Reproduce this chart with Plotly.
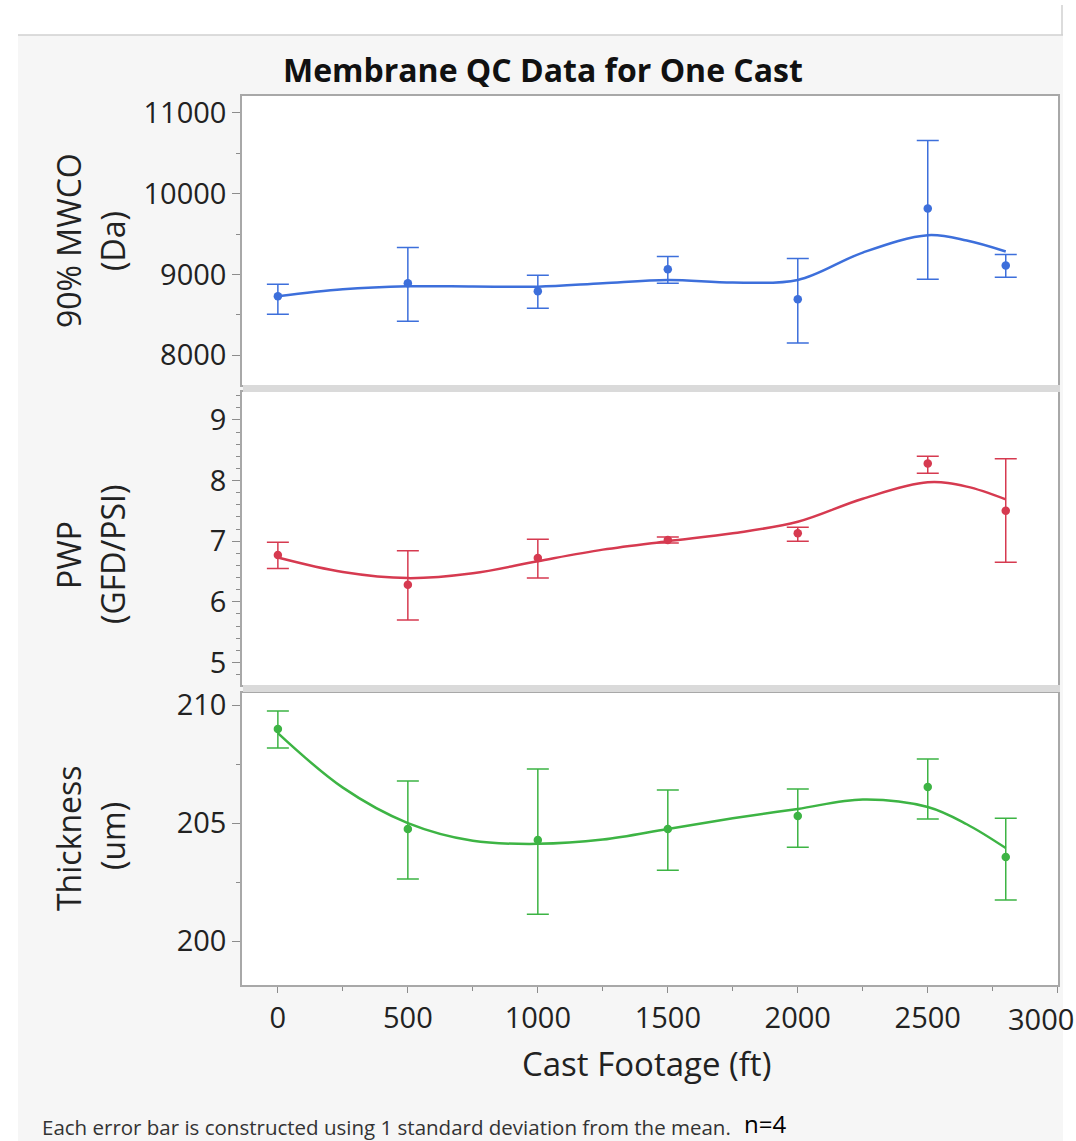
import plotly.graph_objects as go
from plotly.subplots import make_subplots

# ---------------- data ----------------
footage = [0, 500, 1000, 1500, 2000, 2500, 2800]

mwco_mean = [8728, 8889, 8790, 9062, 8691, 9815, 9111]
mwco_hi = [8877, 9333, 8988, 9222, 9198, 10660, 9247]
mwco_lo = [8506, 8420, 8580, 8889, 8148, 8938, 8963]

pwp_mean = [6.77, 6.28, 6.72, 7.02, 7.13, 8.28, 7.50]
pwp_hi = [6.98, 6.84, 7.03, 7.07, 7.23, 8.40, 8.36]
pwp_lo = [6.55, 5.70, 6.39, 6.97, 7.00, 8.12, 6.65]

thick_mean = [208.98, 204.75, 204.28, 204.75, 205.30, 206.53, 203.56]
thick_hi = [209.75, 206.78, 207.29, 206.40, 206.44, 207.71, 205.20]
thick_lo = [208.18, 202.63, 201.14, 203.00, 203.98, 205.17, 201.74]

# smoothing-spline fit
fit_x = [0, 250, 500, 750, 1000, 1250, 1500, 1750, 2000, 2250, 2500, 2650, 2800]
mwco_fit = [8728, 8815, 8852, 8850, 8848, 8890, 8930, 8900, 8930, 9270, 9485, 9420, 9284]
pwp_fit = [6.73, 6.49, 6.39, 6.47, 6.67, 6.86, 7.00, 7.13, 7.32, 7.70, 7.97, 7.90, 7.69]
thick_fit = [208.81, 206.5, 205.0, 204.25, 204.12, 204.3, 204.75, 205.2, 205.6, 206.0, 205.68, 204.95, 203.94]

x_tickvals = [0, 500, 1000, 1500, 2000, 2500, 3000]
x_ticktext = ["0", "500", "1000", "1500", "2000", "2500", ""]
last_x_label = "3000"

BLUE = "#3d6fdb"
RED = "#d63a50"
GREEN = "#3db444"
FONT = "Open Sans"
AX = "#a8a8a8"

fig = make_subplots(rows=3, cols=1, shared_xaxes=True, vertical_spacing=0.01)

series = [
    (mwco_mean, mwco_hi, mwco_lo, mwco_fit, BLUE),
    (pwp_mean, pwp_hi, pwp_lo, pwp_fit, RED),
    (thick_mean, thick_hi, thick_lo, thick_fit, GREEN),
]
for i, (m, hi, lo, fit, col) in enumerate(series, start=1):
    fig.add_trace(go.Scatter(x=fit_x, y=fit, mode="lines",
                             line=dict(color=col, width=2.5, shape="spline", smoothing=1.0),
                             hoverinfo="skip", showlegend=False), row=i, col=1)
    fig.add_trace(go.Scatter(
        x=footage, y=m, mode="markers",
        marker=dict(color=col, size=8.5),
        error_y=dict(type="data", symmetric=False,
                     array=[h - v for h, v in zip(hi, m)],
                     arrayminus=[v - l for v, l in zip(m, lo)],
                     color=col, thickness=1.5, width=11),
        showlegend=False), row=i, col=1)

tickfont = dict(family=FONT, size=29, color="#222222")
common_y = dict(showline=True, linecolor=AX, linewidth=1.5, mirror=True,
                ticks="outside", ticklen=8, tickcolor="#8c8c8c", tickwidth=1,
                showgrid=False, zeroline=False, tickfont=tickfont, tickformat="d")

fig.update_layout(
    yaxis=dict(domain=[0.675, 1.0], range=[7630, 11210], tickvals=[8000, 9000, 10000, 11000],
               minor=dict(dtick=500, ticks="outside", ticklen=4, tickcolor="#8c8c8c"), **common_y),
    yaxis2=dict(domain=[0.337, 0.667], range=[4.62, 9.46], tickvals=[5, 6, 7, 8, 9],
                minor=dict(dtick=0.2, ticks="outside", ticklen=4, tickcolor="#8c8c8c"), **common_y),
    yaxis3=dict(domain=[0.0, 0.329], range=[198.14, 210.53], tickvals=[200, 205, 210],
                minor=dict(dtick=2.5, ticks="outside", ticklen=4, tickcolor="#8c8c8c"), **common_y),
)
for ax in ["xaxis", "xaxis2", "xaxis3"]:
    fig.layout[ax].update(range=[-138, 3001], showline=True, linecolor=AX, linewidth=1.5,
                          mirror=True, showgrid=False, zeroline=False)
fig.layout.xaxis.update(ticks="")
fig.layout.xaxis2.update(ticks="")
fig.layout.xaxis3.update(tickvals=x_tickvals, ticktext=x_ticktext, ticks="outside", ticklen=6,
                         tickcolor="#8c8c8c", tickfont=tickfont,
                         minor=dict(dtick=250, ticks="outside", ticklen=4, tickcolor="#8c8c8c"))

W, H = 1076, 1141
L, R, T, B = 242, 18, 96, 156
pw, ph = W - L - R, H - T - B


def px(x):
    return (x - L) / pw


def py(y):
    return (H - B - y) / ph


shapes = [
    dict(type="rect", xref="paper", yref="paper", x0=px(0), x1=px(W), y0=py(35), y1=py(0),
         fillcolor="white", line=dict(width=0), layer="below"),
    dict(type="rect", xref="paper", yref="paper", x0=px(0), x1=px(18), y0=py(H), y1=py(0),
         fillcolor="white", line=dict(width=0), layer="below"),
    dict(type="rect", xref="paper", yref="paper", x0=px(1063), x1=px(W), y0=py(H), y1=py(0),
         fillcolor="white", line=dict(width=0), layer="below"),
    dict(type="line", xref="paper", yref="paper", x0=px(18), x1=px(1063), y0=py(35), y1=py(35),
         line=dict(color="#d0d0d0", width=1.5)),
    dict(type="line", xref="paper", yref="paper", x0=px(1062), x1=px(1062), y0=py(35), y1=py(5),
         line=dict(color="#d0d0d0", width=1.5)),
    dict(type="rect", xref="paper", yref="paper", x0=px(243), x1=px(1060), y0=py(392), y1=py(385),
         fillcolor="#dadada", line=dict(width=0)),
    dict(type="rect", xref="paper", yref="paper", x0=px(243), x1=px(1060), y0=py(692), y1=py(685),
         fillcolor="#dadada", line=dict(width=0)),
]

TC = "#222222"
ann = [
    dict(text="<b>Membrane QC Data for One Cast</b>", x=px(543), y=py(70),
         font=dict(family=FONT, size=32, color="#111111")),
    dict(text="Cast Footage (ft)", x=px(646), y=py(1063),
         font=dict(family=FONT, size=33, color=TC)),
    dict(text=last_x_label, x=px(1041), y=py(1018),
         font=dict(family=FONT, size=29, color=TC)),
    dict(text="90% MWCO", x=px(68), y=py(241), textangle=-90,
         font=dict(family=FONT, size=32, color=TC)),
    dict(text="(Da)", x=px(112), y=py(241), textangle=-90,
         font=dict(family=FONT, size=32, color=TC)),
    dict(text="PWP", x=px(68), y=py(555), textangle=-90,
         font=dict(family=FONT, size=32, color=TC)),
    dict(text="(GFD/PSI)", x=px(112), y=py(555), textangle=-90,
         font=dict(family=FONT, size=32, color=TC)),
    dict(text="Thickness", x=px(68), y=py(838), textangle=-90,
         font=dict(family=FONT, size=32, color=TC)),
    dict(text="(um)", x=px(112), y=py(836), textangle=-90,
         font=dict(family=FONT, size=32, color=TC)),
    dict(text="Each error bar is constructed using 1 standard deviation from the mean.",
         x=px(40), y=py(1127), xanchor="left",
         font=dict(family=FONT, size=20.5, color="#333333")),
    dict(text="n=4", x=px(742), y=py(1123), xanchor="left",
         font=dict(family=FONT, size=24, color="#000000")),
]
for a in ann:
    a.update(xref="paper", yref="paper", showarrow=False)
    a.setdefault("xanchor", "center")
    a.setdefault("yanchor", "middle")

fig.update_layout(
    width=W, height=H,
    margin=dict(l=L, r=R, t=T, b=B),
    paper_bgcolor="#f6f6f6",
    plot_bgcolor="white",
    shapes=shapes,
    annotations=ann,
    showlegend=False,
)

fig.write_html("out.html")
